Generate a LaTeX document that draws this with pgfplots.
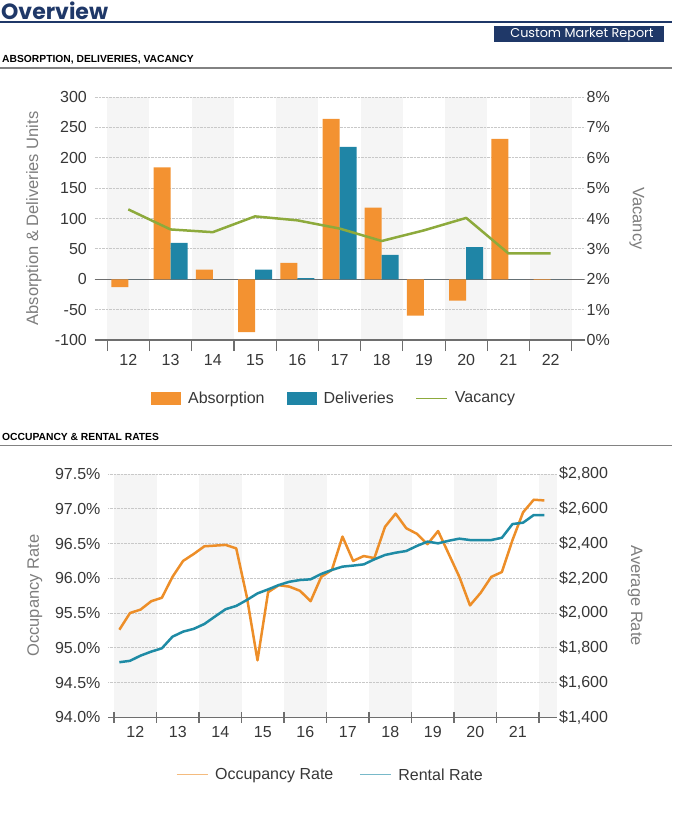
\documentclass[border=0pt]{standalone}
\usepackage{fontspec}
\setmainfont{Liberation Sans}
\newfontfamily\headfont{Poppins}
\usepackage{pgfplots}
\pgfplotsset{compat=1.18}

\definecolor{navy}{RGB}{31,56,104}
\definecolor{barorange}{RGB}{243,146,49}
\definecolor{barteal}{RGB}{31,133,166}
\definecolor{vacgreen}{RGB}{141,170,60}
\definecolor{lineorange}{RGB}{237,142,40}
\definecolor{lineteal}{RGB}{30,139,165}
\definecolor{bandgray}{RGB}{245,245,245}
\definecolor{labelgray}{RGB}{125,125,125}
\definecolor{tickgray}{RGB}{55,55,55}
\definecolor{axisgray}{RGB}{110,110,110}
\definecolor{gridgray}{RGB}{200,200,200}
\definecolor{rulegray}{RGB}{130,130,130}

\pgfplotsset{
  base/.style={
    scale only axis, height=243pt,
    /pgf/number format/assume math mode=true,
    tick label style={font=\fontsize{16}{16}\selectfont, text=tickgray},
    ylabel style={font=\fontsize{16.5}{17}\selectfont, text=labelgray},
    ytick style={draw=none},
    y axis line style={draw=none},
    grid style={gridgray, densely dotted, line width=0.8pt},
    yticklabel style={inner sep=2pt},
  },
}

\begin{document}
\begin{tikzpicture}[x=1pt,y=1pt]

% header
\node[anchor=base west, inner sep=0, text=navy, font=\headfont\bfseries\fontsize{22}{22}\selectfont] at (1,-19.5) {Overview};
\draw[navy, line width=2pt] (0,-22) -- (672,-22);
\fill[navy] (494,-26) rectangle (664,-42);
\node[text=white, font=\headfont\fontsize{12.8}{13}\selectfont, inner sep=0] at (582,-34.5) {Custom Market Report};
\node[anchor=west, inner sep=0, font=\bfseries\fontsize{10.3}{10}\selectfont] at (2,-60) {ABSORPTION, DELIVERIES, VACANCY};
\draw[rulegray, line width=1.5pt] (0,-68) -- (672,-68);
\node[anchor=west, inner sep=0, font=\bfseries\fontsize{10.3}{10}\selectfont] at (2,-436.5) {OCCUPANCY \& RENTAL RATES};
\draw[rulegray, line width=1.5pt] (0,-445.5) -- (672,-445.5);

% ---------------- top chart: bars ----------------
\begin{axis}[base, set layers,
  at={(94.5pt,-340pt)}, anchor=south west, width=490pt,
  xmin=11.2, xmax=22.8, ymin=-100, ymax=300,
  axis x line*=bottom, axis y line*=left,
  x axis line style={axisgray, line width=1.2pt, -},
  xtick={11.5,12.5,...,22.5},
  xticklabels={12,13,14,15,16,17,18,19,20,21,22,{}},
  xticklabel style={xshift=21.12pt},
  xtick style={axisgray, line width=1.2pt},
  major tick length=11pt, tick align=center,
  ytick={-100,-50,...,300},
  ymajorgrids,
  ylabel={Absorption \& Deliveries Units},
  ylabel style={at={(axis description cs:-0.1235,0.5)}, anchor=center},
  ybar=0pt, bar width=17pt,
  legend columns=3,
  legend style={draw=none, fill=none, at={(0.489,-0.2387)}, anchor=center,
    font=\fontsize{16}{16}\selectfont, text=tickgray,
    /tikz/every even column/.append style={column sep=20pt},
    /tikz/every odd column/.append style={column sep=5pt}},
  legend cell align=left,
]
\begin{pgfonlayer}{axis background}
\fill[bandgray] (axis cs:11.5,-100) rectangle (axis cs:12.5,300);
\fill[bandgray] (axis cs:13.5,-100) rectangle (axis cs:14.5,300);
\fill[bandgray] (axis cs:15.5,-100) rectangle (axis cs:16.5,300);
\fill[bandgray] (axis cs:17.5,-100) rectangle (axis cs:18.5,300);
\fill[bandgray] (axis cs:19.5,-100) rectangle (axis cs:20.5,300);
\fill[bandgray] (axis cs:21.5,-100) rectangle (axis cs:22.5,300);
\end{pgfonlayer}
\draw[axisgray, line width=1.2pt] (axis cs:11.2,0) -- (axis cs:22.8,0);
\addplot[fill=barorange, draw=none,
  legend image code/.code={\fill[barorange] (0pt,-6.5pt) rectangle (30pt,6.5pt);}]
  coordinates {(12,-13) (13,184) (14,16) (15,-87) (16,27) (17,264) (18,118) (19,-60) (20,-35) (21,231) (22,-1)};
\addlegendentry{Absorption}
\addplot[fill=barteal, draw=none,
  legend image code/.code={\fill[barteal] (0pt,-6.5pt) rectangle (30pt,6.5pt);}]
  coordinates {(12,0) (13,60) (14,0) (15,16) (16,2) (17,218) (18,40) (19,0) (20,53) (21,0) (22,0)};
\addlegendentry{Deliveries}
\addlegendimage{legend image code/.code={\draw[vacgreen, line width=1pt] (0pt,0pt) -- (31pt,0pt);}}
\addlegendentry{Vacancy}
\end{axis}

% ---------------- top chart: vacancy ----------------
\begin{axis}[base,
  at={(94.5pt,-340pt)}, anchor=south west, width=490pt,
  xmin=11.2, xmax=22.8, ymin=0, ymax=8,
  axis x line=none, axis y line*=right,
  ytick={0,1,...,8},
  yticklabel={\pgfmathprintnumber{\tick}\%},
  ylabel={Vacancy},
  ylabel style={at={(axis description cs:1.107,0.5)}, anchor=center, rotate=180},
]
\addplot[vacgreen, line width=2.5pt, line join=round]
  coordinates {(12,4.30) (13,3.64) (14,3.55) (15,4.07) (16,3.94) (17,3.67) (18,3.26) (19,3.61) (20,4.02) (21,2.85) (22,2.85)};
\end{axis}

% ---------------- bottom chart: occupancy ----------------
\begin{axis}[base, set layers,
  at={(108.1pt,-717.3pt)}, anchor=south west, width=448.8pt, height=243.3pt,
  xmin=2011.86, xmax=2022.42, ymin=94, ymax=97.5,
  axis x line*=bottom, axis y line*=left,
  x axis line style={axisgray, line width=1.2pt, -},
  xtick={2012,2013,...,2022},
  xticklabels={12,13,14,15,16,17,18,19,20,21,{}},
  xticklabel style={xshift=21.25pt},
  xtick style={axisgray, line width=1.2pt},
  major tick length=11pt, tick align=center,
  ytick={94,94.5,...,97.5},
  yticklabel={\pgfmathprintnumber[fixed,fixed zerofill,precision=1]{\tick}\%},
  ymajorgrids,
  ylabel={Occupancy Rate},
  ylabel style={at={(axis description cs:-0.163,0.5)}, anchor=center},
  legend columns=2,
  legend style={draw=none, fill=none, at={(0.4955,-0.237)}, anchor=center,
    font=\fontsize{16}{16}\selectfont, text=tickgray,
    /tikz/every even column/.append style={column sep=24pt},
    /tikz/every odd column/.append style={column sep=5pt}},
  legend cell align=left,
]
\begin{pgfonlayer}{axis background}
\fill[bandgray] (axis cs:2012,94) rectangle (axis cs:2013,97.5);
\fill[bandgray] (axis cs:2014,94) rectangle (axis cs:2015,97.5);
\fill[bandgray] (axis cs:2016,94) rectangle (axis cs:2017,97.5);
\fill[bandgray] (axis cs:2018,94) rectangle (axis cs:2019,97.5);
\fill[bandgray] (axis cs:2020,94) rectangle (axis cs:2021,97.5);
\fill[bandgray] (axis cs:2022,94) rectangle (axis cs:2022.42,97.5);
\end{pgfonlayer}
\addplot[lineorange, line width=2.5pt, line join=round,
  legend image code/.code={\draw[lineorange!60, line width=1pt] (0pt,0pt) -- (31pt,0pt);}]
  coordinates {
  (2012.125,95.26) (2012.375,95.50) (2012.625,95.55) (2012.875,95.67)
  (2013.125,95.72) (2013.375,96.02) (2013.625,96.25) (2013.875,96.35)
  (2014.125,96.46) (2014.375,96.47) (2014.625,96.48) (2014.875,96.43)
  (2015.125,95.73) (2015.375,94.82) (2015.625,95.80) (2015.875,95.90)
  (2016.125,95.88) (2016.375,95.82) (2016.625,95.67) (2016.875,96.02)
  (2017.125,96.12) (2017.375,96.60) (2017.625,96.25) (2017.875,96.32)
  (2018.125,96.29) (2018.375,96.74) (2018.625,96.93) (2018.875,96.72)
  (2019.125,96.64) (2019.375,96.49) (2019.625,96.68) (2019.875,96.35)
  (2020.125,96.02) (2020.375,95.61) (2020.625,95.79) (2020.875,96.02)
  (2021.125,96.09) (2021.375,96.55) (2021.625,96.95) (2021.875,97.13)
  (2022.125,97.12)};
\addlegendentry{Occupancy Rate}
\addlegendimage{legend image code/.code={\draw[lineteal!60, line width=1pt] (0pt,0pt) -- (31pt,0pt);}}
\addlegendentry{Rental Rate}
\end{axis}

% ---------------- bottom chart: rent ----------------
\begin{axis}[base,
  at={(108.1pt,-717.3pt)}, anchor=south west, width=448.8pt, height=243.3pt,
  xmin=2011.86, xmax=2022.42, ymin=1400, ymax=2800,
  axis x line=none, axis y line*=right,
  ytick={1400,1600,...,2800},
  scaled y ticks=false,
  yticklabel={\$\pgfmathprintnumber[1000 sep={,}]{\tick}},
  ylabel={Average Rate},
  ylabel style={at={(axis description cs:1.174,0.5)}, anchor=center, rotate=180},
]
\addplot[lineteal, line width=2.5pt, line join=round]
  coordinates {
  (2012.125,1717) (2012.375,1725) (2012.625,1755) (2012.875,1778)
  (2013.125,1797) (2013.375,1864) (2013.625,1893) (2013.875,1909)
  (2014.125,1937) (2014.375,1980) (2014.625,2022) (2014.875,2041)
  (2015.125,2075) (2015.375,2113) (2015.625,2136) (2015.875,2161)
  (2016.125,2180) (2016.375,2190) (2016.625,2194) (2016.875,2225)
  (2017.125,2248) (2017.375,2267) (2017.625,2273) (2017.875,2280)
  (2018.125,2309) (2018.375,2334) (2018.625,2347) (2018.875,2357)
  (2019.125,2386) (2019.375,2411) (2019.625,2401) (2019.875,2416)
  (2020.125,2428) (2020.375,2420) (2020.625,2420) (2020.875,2420)
  (2021.125,2433) (2021.375,2512) (2021.625,2520) (2021.875,2564)
  (2022.125,2564)};
\end{axis}
\pgfresetboundingbox
\path[use as bounding box] (0,0) rectangle (672,-821);
\end{tikzpicture}
\end{document}
